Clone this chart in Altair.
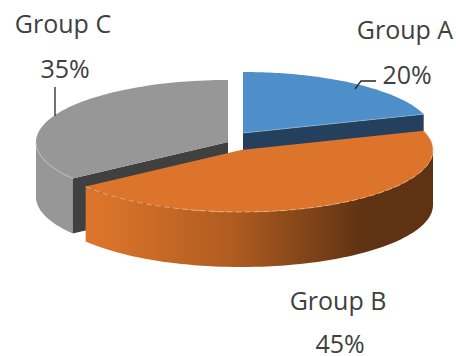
import math
import altair as alt

# Slice shares, in drawing order clockwise from twelve o'clock
groups = ["Group A", "Group B", "Group C"]
shares = [20, 45, 35]

# Pie layout in pixels
CENTRES = {"Group A": (243, 133), "Group B": (241, 150), "Group C": (228, 142)}
RADII = {"Group A": (190, 61), "Group B": (192, 62), "Group C": (192, 62)}
DEPTH = 55

TOP_COLOURS = {"Group A": "#4f8fc9", "Group B": "#dc752b", "Group C": "#979797"}
WALL_COLOURS = {"Group A": "#24405c", "Group C": "#404040"}

# Text layout: name position, share position, text anchor in pixels
LABEL_LAYOUT = {
    "Group A": ((405, 39), (407, 84)),
    "Group B": ((338, 310), (340, 353)),
    "Group C": ((63, 33), (65, 78)),
}
LEADERS = [
    [(55, 87), (55, 116)],
    [(355, 89), (361, 81), (376, 81)],
]

# Turn the shares into angular extents
extents = {}
running = 0
for name, share in zip(groups, shares):
    extents[name] = (running * 3.6, (running + share) * 3.6)
    running += share


def rim_point(name, degrees, drop=0):
    cx, cy = CENTRES[name]
    rx, ry = RADII[name]
    a = math.radians(degrees)
    return (cx + rx * math.sin(a), cy - ry * math.cos(a) + drop)


def rim(name, start, end, drop=0, steps=72):
    return [rim_point(name, start + (end - start) * i / steps, drop) for i in range(steps + 1)]


def polygon(points):
    ring = [list(p) for p in points]
    ring.append(ring[0])
    return {"type": "Feature", "properties": {}, "geometry": {"type": "Polygon", "coordinates": [ring]}}


def polyline(points):
    return {"type": "Feature", "properties": {},
            "geometry": {"type": "LineString", "coordinates": [list(p) for p in points]}}


def top_face(name):
    start, end = extents[name]
    return polygon([CENTRES[name]] + rim(name, start, end))


def outer_side(name, start, end):
    return polygon(rim(name, start, end) + rim(name, end, start, DEPTH))


def cut_wall(name, degrees):
    cx, cy = CENTRES[name]
    edge = rim_point(name, degrees)
    return polygon([(cx, cy), edge, (edge[0], edge[1] + DEPTH), (cx, cy + DEPTH)])


projection = alt.Projection(type="identity", scale=1, translate=[0, 0])


def shape(feature, **style):
    return alt.Chart(alt.Data(values=[feature])).mark_geoshape(**style).project(**projection.to_dict())


orange_side = alt.Gradient(
    gradient="linear", x1=0, y1=0, x2=1, y2=0,
    stops=[
        alt.GradientStop(color="#dc752b", offset=0.03),
        alt.GradientStop(color="#b05c20", offset=0.42),
        alt.GradientStop(color="#5e3213", offset=0.8),
        alt.GradientStop(color="#5e3213", offset=1),
    ],
)

a_start, a_end = extents["Group A"]
b_start, b_end = extents["Group B"]
c_start, c_end = extents["Group C"]

layers = [
    shape(outer_side("Group C", c_start, 270), fill="#979797"),
    shape(cut_wall("Group C", c_start), fill=WALL_COLOURS["Group C"]),
    shape(top_face("Group C"), fill=TOP_COLOURS["Group C"]),
    # Pale highlight where the grey top meets its side
    shape(polyline(rim("Group C", c_start, 270)), filled=False, stroke="#c8c8c8", strokeWidth=0.8),
    shape(cut_wall("Group A", a_end), fill=WALL_COLOURS["Group A"]),
    shape(top_face("Group A"), fill=TOP_COLOURS["Group A"]),
    shape(polyline([CENTRES["Group A"], rim_point("Group A", a_end)]),
          filled=False, stroke="#8fb4d6", strokeWidth=0.7),
    shape(outer_side("Group B", 90, b_end), fill=orange_side),
    shape(top_face("Group B"), fill=TOP_COLOURS["Group B"]),
    # Pale dashed highlight along the front of the orange slice
    shape(polyline(rim("Group B", a_end, b_end)), filled=False, stroke="#eab48c",
          strokeWidth=0.8, strokeDash=[6, 3]),
]

for path in LEADERS:
    layers.append(shape(polyline(path), filled=False, stroke="#262626", strokeWidth=1.3))

for name, share in zip(groups, shares):
    name_pos, share_pos = LABEL_LAYOUT[name]
    for text, (px, py) in ((name, name_pos), (f"{share}%", share_pos)):
        layers.append(
            alt.Chart(alt.Data(values=[{"label": text}]))
            .mark_text(font="Open Sans", fontSize=25, color="#404040", align="center", baseline="alphabetic")
            .encode(text="label:N", x=alt.value(px), y=alt.value(py))
        )

chart = (
    alt.layer(*layers)
    .properties(width=456, height=356, padding=0, autosize=alt.AutoSizeParams(type="none"))
    .configure_view(stroke=None)
)

chart.save("out.html", embed_options={"renderer": "svg", "actions": False})
